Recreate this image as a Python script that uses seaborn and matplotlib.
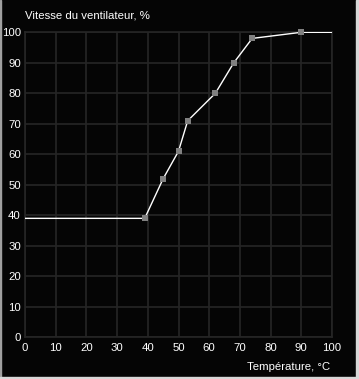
import matplotlib
matplotlib.use("Agg")
import matplotlib.pyplot as plt
import seaborn as sns
import pandas as pd
from matplotlib.patches import Rectangle

temperature = [0, 39, 45, 50, 53, 62, 68, 74, 90, 100]
fan_speed = [39, 39, 52, 61, 71, 80, 90, 98, 100, 100]
marker_temperature = [39, 45, 50, 53, 62, 68, 74, 90]
marker_speed = [39, 52, 61, 71, 80, 90, 98, 100]
ticks = [0, 10, 20, 30, 40, 50, 60, 70, 80, 90, 100]
ylabel = "Vitesse du ventilateur, %"
xlabel = "Température, °C"

sns.set_theme(style="dark")
plt.rcParams['font.family'] = ['Liberation Sans', 'DejaVu Sans']

W, H = 359, 379
fig = plt.figure(figsize=(W / 100, H / 100), dpi=100)
fig.patch.set_facecolor("#050505")
# thin grey frame
fig.patches.append(Rectangle((0, 0), 1 / W, 1, transform=fig.transFigure, color="#a0a0a0", zorder=0))
fig.patches.append(Rectangle((1 - 3 / W, 0), 3 / W, 1, transform=fig.transFigure, color="#d8d8d8", zorder=0))
fig.patches.append(Rectangle((0, 0), 1, 2 / H, transform=fig.transFigure, color="#d8d8d8", zorder=0))

left, right = 25 / W, 332 / W
bottom, top = (H - 337.3) / H, (H - 32.3) / H
ax = fig.add_axes([left, bottom, right - left, top - bottom])
ax.set_facecolor("#050505")

line_df = pd.DataFrame({"t": temperature, "s": fan_speed})
mk_df = pd.DataFrame({"t": marker_temperature, "s": marker_speed})
sns.lineplot(data=line_df, x="t", y="s", ax=ax, color="white", linewidth=1.0, zorder=3, sort=False)
sns.scatterplot(data=mk_df, x="t", y="s", ax=ax, color="#808080", marker="s", s=24,
                linewidth=0, zorder=4, clip_on=False)

ax.set_xlim(0, 100)
ax.set_ylim(0, 100)
ax.set_xticks(ticks)
ax.set_yticks(ticks)
ax.set_xticklabels([str(t) for t in ticks])
ax.set_yticklabels([str(t) for t in ticks])
ax.grid(True, color="#262626", linewidth=1.2)
for sp in ax.spines.values():
    sp.set_visible(True)
    sp.set_color("#262626")
    sp.set_linewidth(1.2)
ax.tick_params(axis="both", length=0, colors="white", labelsize=8.2)
ax.tick_params(axis="y", pad=3)
ax.tick_params(axis="x", pad=4)
ax.set_xlabel("")
ax.set_ylabel("")

fig.text(25 / W, 1 - 15 / H, ylabel, color="white", fontsize=8.2, ha="left", va="center")
fig.text(330 / W, 1 - 367 / H, xlabel, color="white", fontsize=8.2, ha="right", va="center")

fig.savefig("out.png", dpi=100, facecolor=fig.get_facecolor())
